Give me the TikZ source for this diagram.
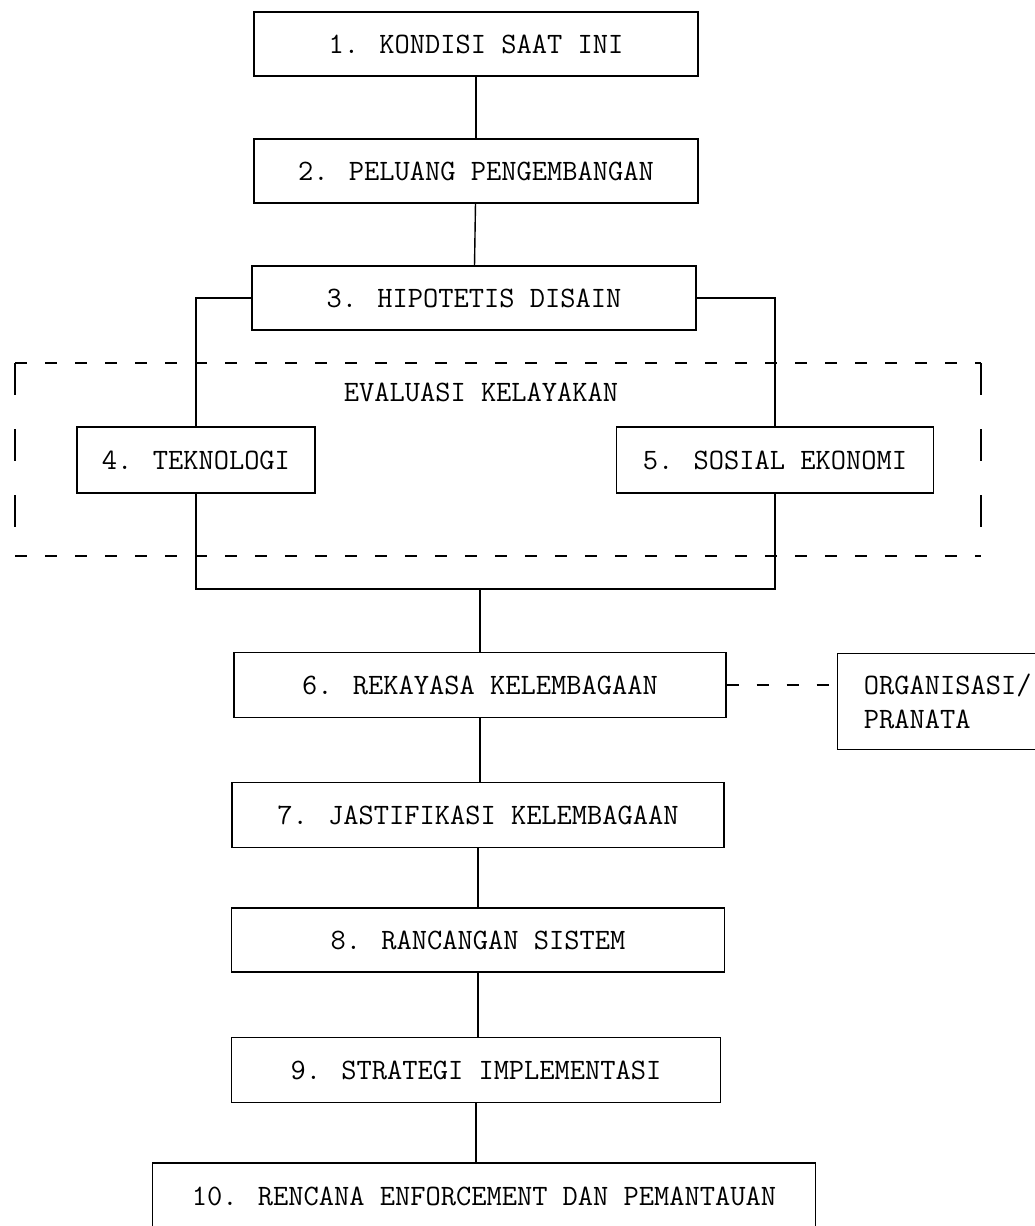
\documentclass[tikz,border=0pt]{standalone}
\usepackage{tikz}
\usetikzlibrary{calc}

\begin{document}
\begin{tikzpicture}[x=0.5pt, y=-0.5pt,
  every node/.style = {font=\ttfamily\fontsize{14.8}{17}\selectfont, text=black},
  box/.style = {draw, line width=0.7pt, inner sep=0pt},
  evalh/.style = {line width=0.7pt, dash pattern=on 6pt off 9pt},
  evalv/.style = {line width=0.7pt, dash pattern=on 16pt off 17pt}]
\useasboundingbox (0,0) rectangle (1034,1226);

% upper chain
\node[box, minimum width=222pt, minimum height=32pt] (b1) at (476,44) {1. KONDISI SAAT INI};
\node[box, minimum width=222pt, minimum height=32pt] (b2) at (476,171) {2. PELUANG PENGEMBANGAN};
\node[box, minimum width=222pt, minimum height=32pt] (b3) at (474,298) {3. HIPOTETIS DISAIN};

\draw[line width=0.7pt] (b1) -- (b2);
\draw[line width=0.7pt] (b2) -- (b3);

% evaluasi kelayakan
\coordinate (e1) at (15,363);
\coordinate (e2) at (981,363);
\coordinate (e3) at (981,556);
\coordinate (e4) at (15,556);

\draw[evalh] (e1) -- (e2);
\draw[evalh] (e4) -- (e3);
\draw[evalv] (e1) -- (e4);
\draw[evalv] (e2) -- (e3);

\node (eval) at (481,392) {EVALUASI KELAYAKAN};

\node[box, minimum width=119pt, minimum height=33pt] (b4) at (196,460) {4. TEKNOLOGI};
\node[box, minimum width=158.5pt, minimum height=33pt] (b5) at (775,460) {5. SOSIAL EKONOMI};

\coordinate (join) at (480,589);

\draw[line width=0.7pt] (b3.west) -| (b4.north);
\draw[line width=0.7pt] (b3.east) -| (b5.north);
\draw[line width=0.7pt] (b4.south) |- (join) -| (b5.south);

% lower chain
\node[box, minimum width=246pt, minimum height=32.5pt] (b6) at (480,685) {6. REKAYASA KELEMBAGAAN};
\node[box, minimum width=246pt, minimum height=32.5pt] (b7) at (478,815) {7. JASTIFIKASI KELEMBAGAAN};
\node[box, minimum width=246.5pt, minimum height=32pt] (b8) at (478,940) {8. RANCANGAN SISTEM};
\node[box, minimum width=244.5pt, minimum height=32.5pt] (b9) at (476,1070) {9. STRATEGI IMPLEMENTASI};
\node[box, minimum width=331.5pt, minimum height=33pt] (b10) at (484,1196) {10. RENCANA ENFORCEMENT DAN PEMANTAUAN};

\draw[line width=0.7pt] (join) -- (b6);
\draw[line width=0.7pt] (b6) -- (b6 |- b7.north);
\draw[line width=0.7pt] (b7) -- (b7 |- b8.north);
\draw[line width=0.7pt] (b8) -- (b8 |- b9.north);
\draw[line width=0.7pt] (b9) -- (b9 |- b10.north);

% right
\node[box, anchor=north west, align=left, inner xsep=8pt, minimum width=110pt, minimum height=48pt] (org) at (837,653) {ORGANISASI/\\PRANATA};

\draw[evalh] (b6.east) -- (b6.east -| org.west);
\end{tikzpicture}
\end{document}
